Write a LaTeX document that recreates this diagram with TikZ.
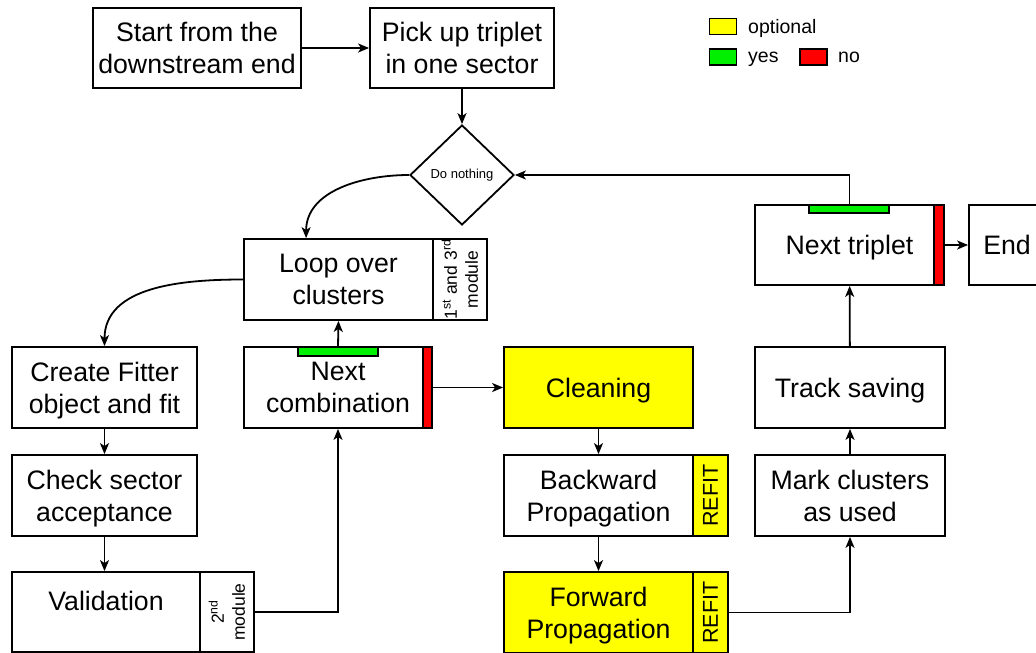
\documentclass[tikz,border=0pt]{standalone}
\usepackage{fontspec}
\setmainfont{Liberation Sans}
\usetikzlibrary{arrows.meta,calc,shapes.geometric}

\definecolor{optyellow}{RGB}{255,255,0}
\definecolor{yesgreen}{RGB}{0,240,0}
\definecolor{nored}{RGB}{255,0,0}

\tikzset{
  lw/.style={line width=1.8pt},
  boxfont/.style={font=\fontsize{26.7}{32}\selectfont},
  box/.style={draw, lw, fill=white, inner sep=0pt, align=center, text depth=0pt, boxfont},
  sidebox/.style={draw, lw, inner sep=0pt},
  sidetext/.style={rotate=90, inner sep=0pt, align=center,
    font=\fontsize{17.5}{21}\selectfont},
  refit/.style={rotate=90, inner sep=0pt, font=\fontsize{21.5}{24}\selectfont},
  flag/.style={draw, line width=1.1pt, inner sep=0pt},
  legbox/.style={draw, line width=1.3pt, minimum width=27pt, minimum height=16pt, inner sep=0pt},
  arr/.style={lw, -{Stealth[length=11pt,width=9pt,inset=3pt]}},
  legtext/.style={anchor=base west, inner sep=0pt, font=\fontsize{19.5}{22}\selectfont},
}

\begin{document}
\begin{tikzpicture}[x=1pt, y=-1pt]
  \useasboundingbox (0,0) rectangle (1036,653);
  \clip (0,0) rectangle (1036,653);

  % legend
  \node[legbox, fill=optyellow] (lgy) at (723,26.5) {};
  \node[legtext] (lgyt) at (748,33) {optional};
  \node[legbox, fill=yesgreen] (lgg) at (723,57) {};
  \node[legtext] (lggt) at (748,62) {yes};
  \node[legbox, fill=nored] (lgr) at (813.5,57) {};
  \node[legtext] (lgrt) at (838,62) {no};

  % top row
  \node[box, minimum width=208pt, minimum height=80pt] (start) at (197,48) {Start from the\\downstream end};
  \node[box, minimum width=184pt, minimum height=80pt] (pick) at (462,48) {Pick up triplet\\in one sector};

  % decision
  \node[draw, lw, shape=diamond, minimum width=104pt, minimum height=100pt, inner sep=0pt,
        font=\fontsize{13}{15}\selectfont] (dn) at (462,175) {Do nothing};

  % loop over clusters
  \node[box, minimum width=189pt, minimum height=81pt] (loop) at (338.5,279.5) {Loop over\\clusters};
  \node[sidebox, minimum width=54pt, minimum height=81pt] (loopside) at (460,279.5) {};
  \node[sidetext] (loopsidetxt) at (loopside) {1\textsuperscript{st} and 3\textsuperscript{rd}\\module};

  % left column
  \node[box, minimum width=185pt, minimum height=81pt] (create) at (104.5,387.5) {Create Fitter\\object and fit};
  \node[box, minimum width=185pt, minimum height=81pt] (check) at (104.5,495.5) {Check sector\\acceptance};
  \node[box, minimum width=188pt, minimum height=80pt] (valid) at (106,612) {};
  \node[boxfont, inner sep=0pt] (validtxt) at (106,601) {Validation};
  \node[sidebox, minimum width=54pt, minimum height=80pt] (validside) at (227,612) {};
  \node[sidetext] (validsidetxt) at (validside) {2\textsuperscript{nd}\\module};

  % next combination
  \node[box, minimum width=188pt, minimum height=81pt] (ncomb) at (338,387.5) {Next\\combination};
  \node[flag, fill=nored, minimum width=9pt, minimum height=81pt] (ncombno) at (427.5,387.5) {};
  \node[flag, fill=yesgreen, minimum width=80pt, minimum height=9pt] (ncombyes) at (338,351.5) {};

  % refit column
  \node[box, fill=optyellow, minimum width=189pt, minimum height=81pt] (clean) at (598.5,387.5) {Cleaning};
  \node[box, minimum width=189pt, minimum height=81pt] (back) at (598.5,495.5) {Backward\\Propagation};
  \node[sidebox, fill=optyellow, minimum width=35pt, minimum height=81pt] (backside) at (710.5,495.5) {};
  \node[refit] (backsidetxt) at (backside) {REFIT};
  \node[box, fill=optyellow, minimum width=189pt, minimum height=81pt] (fwd) at (598.5,612.5) {Forward\\Propagation};
  \node[sidebox, fill=optyellow, minimum width=35pt, minimum height=81pt] (fwdside) at (710.5,612.5) {};
  \node[refit] (fwdsidetxt) at (fwdside) {REFIT};

  % right column
  \node[box, minimum width=190pt, minimum height=81pt] (mark) at (850,495.5) {Mark clusters\\as used};
  \node[box, minimum width=190pt, minimum height=81pt] (track) at (850,387.5) {Track saving};
  \node[box, minimum width=189pt, minimum height=80pt] (ntrip) at (849.5,245) {Next triplet};
  \node[flag, fill=nored, minimum width=10pt, minimum height=80pt] (ntripno) at (939,245) {};
  \node[flag, fill=yesgreen, minimum width=80pt, minimum height=8pt] (ntripyes) at (849,209) {};
  \node[box, minimum width=76pt, minimum height=80pt] (end) at (1007,245) {End};

  % connectors
  \draw[arr] (start) -- (pick);
  \draw[arr] (pick) -- (dn);
  \draw[arr] (ntrip.north) |- (dn.east);
  \draw[arr] (dn.west) to[out=180, in=90] ([xshift=63pt]loop.north west);
  \draw[arr] (loop.west) to[out=180, in=90] (create.north);
  \draw[arr] (create) -- (check);
  \draw[arr] (check.south) -- (check.south |- valid.north);
  \draw[arr] (validside.east) -| (ncomb.south);
  \draw[arr] (ncomb.north) -- (loop.south);
  \draw[arr] (ncomb.east) -- (clean.west);
  \draw[arr] (clean) -- (back);
  \draw[arr] (back) -- (fwd);
  \draw[arr] (fwdside.east) -| (mark.south);
  \draw[arr] (mark) -- (track);
  \draw[arr] (track) -- (ntrip);
  \draw[arr] (ntrip.east) -- (end.west);
\end{tikzpicture}
\end{document}
